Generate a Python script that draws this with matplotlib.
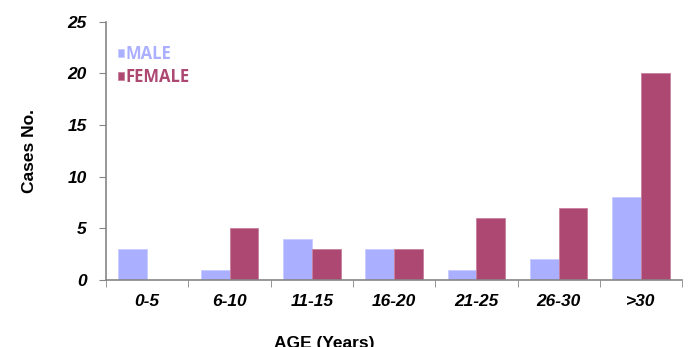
import numpy as np
import matplotlib
matplotlib.use("Agg")
import matplotlib.pyplot as plt

plt.rcParams["font.family"] = ["Liberation Sans", "DejaVu Sans"]

age_groups = ["0-5", "6-10", "11-15", "16-20", "21-25", "26-30", ">30"]
male_cases = [3, 1, 4, 3, 1, 2, 8]
female_cases = [0, 5, 3, 3, 6, 7, 20]
y_ticks = [0, 5, 10, 15, 20, 25]

male_color = "#aab0ff"
female_color = "#ad4872"
axis_color = "#868686"

fig = plt.figure(figsize=(6.89, 3.47), dpi=100)
ax = fig.add_axes([0.154, 0.193, 0.836, 0.744])

x = np.arange(len(age_groups))
w = 0.35
ax.bar(x - w / 2, male_cases, w, color=male_color, edgecolor="#c8ccff", linewidth=0.6, label="MALE")
ax.bar(x + w / 2, female_cases, w, color=female_color, edgecolor="#c77f9c", linewidth=0.6, label="FEMALE")

ax.set_xlim(-0.5, len(age_groups) - 0.5)
ax.set_ylim(0, 25)
ax.set_yticks(y_ticks)
ax.set_yticklabels([str(v) for v in y_ticks], fontsize=12.5, fontweight="bold", style="italic")
ax.set_xticks(x)
ax.set_xticklabels(age_groups, fontsize=12.5, fontweight="bold", style="italic")

# category boundary ticks on the x axis
ax.set_xticks(np.arange(len(age_groups) + 1) - 0.5, minor=True)
ax.tick_params(axis="x", which="major", length=0, pad=10)
ax.tick_params(axis="x", which="minor", length=5, color=axis_color, direction="out")
ax.tick_params(axis="y", length=5, color=axis_color, direction="out", pad=9)

for side in ("top", "right"):
    ax.spines[side].set_visible(False)
for side in ("left", "bottom"):
    ax.spines[side].set_color(axis_color)
    ax.spines[side].set_linewidth(1.2)

ax.set_ylabel("Cases No.", fontsize=12.5, fontweight="bold", labelpad=22)
ax.set_xlabel("AGE (Years)", fontsize=12.5, fontweight="bold")
ax.xaxis.set_label_coords(0.378, -0.215)

leg = ax.legend(loc="upper left", bbox_to_anchor=(0.0, 0.955), frameon=False,
                handlelength=0.35, handleheight=0.35, handletextpad=0.12,
                labelspacing=0.3, borderaxespad=0.3,
                prop={"family": "Open Sans", "size": 12, "weight": "bold"})
for text, col in zip(leg.get_texts(), [male_color, female_color]):
    text.set_color(col)

fig.savefig("out.png", dpi=100)
